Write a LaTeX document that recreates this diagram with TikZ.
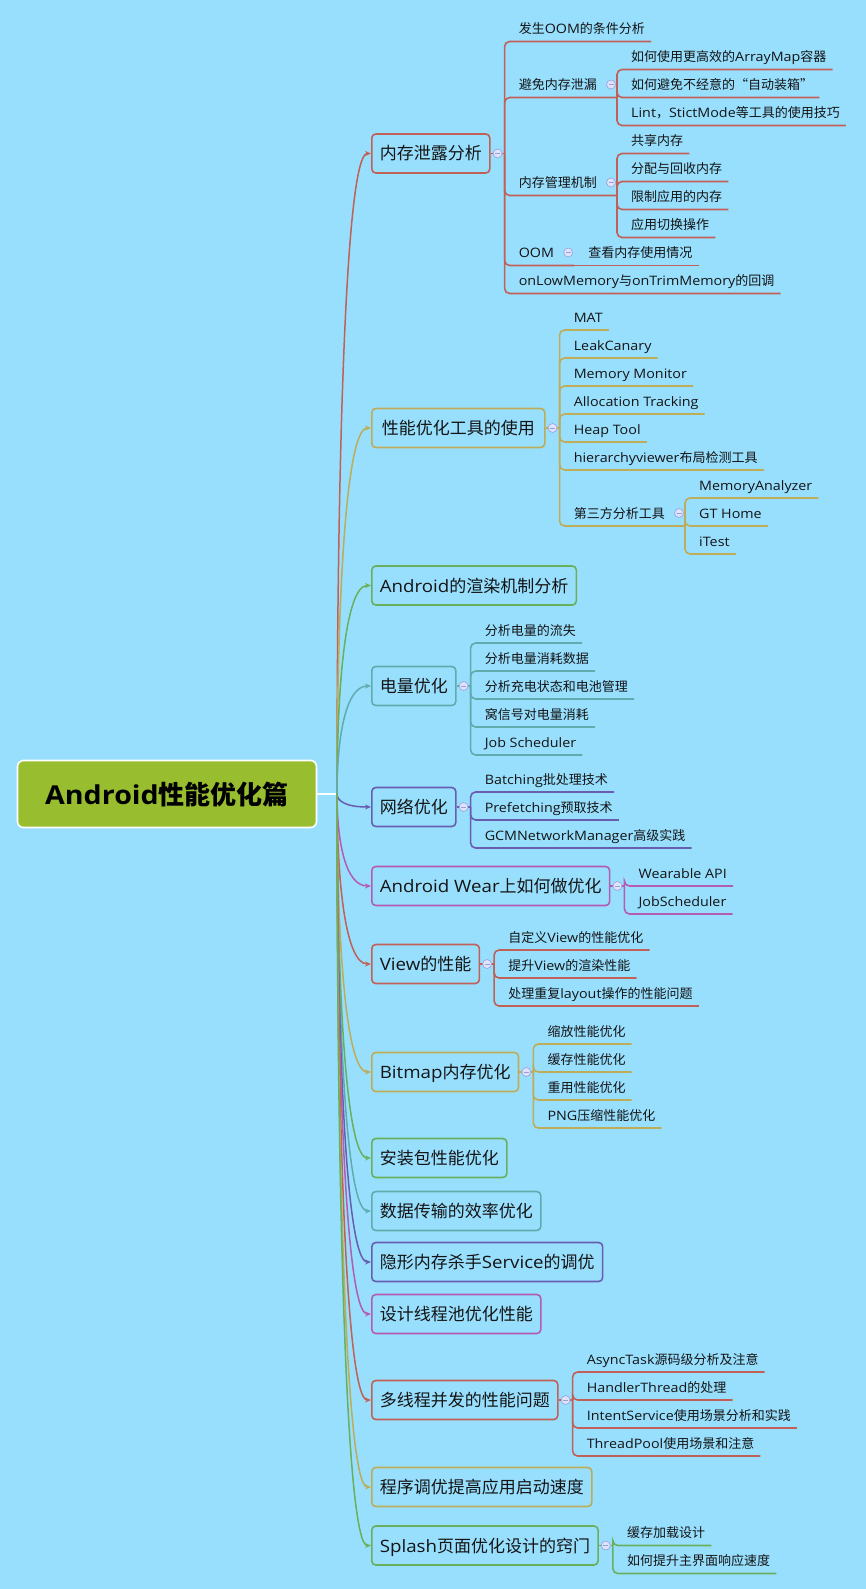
\documentclass[tikz,border=0pt]{standalone}
\usepackage{fontspec}
\setmainfont{Open Sans}[FakeStretch=1.1]
\newfontfamily\cjk{Noto Sans CJK SC}
\newcount\hanchar
\hanchar="4E00
\loop \XeTeXcharclass\hanchar=1 \advance\hanchar by 1 \ifnum\hanchar<"A000 \repeat
\hanchar="FF00
\loop \XeTeXcharclass\hanchar=1 \advance\hanchar by 1 \ifnum\hanchar<"FFF0 \repeat
\XeTeXcharclass"201C=1
\XeTeXcharclass"201D=1
\XeTeXinterchartokenstate=1
\XeTeXinterchartoks 0 1 = {\cjk}
\XeTeXinterchartoks 4095 1 = {\cjk}
\XeTeXinterchartoks 1 0 = {\rmfamily}
\usetikzlibrary{calc, positioning, arrows.meta}

\definecolor{bg}{RGB}{152,223,254}
\definecolor{rootfill}{RGB}{152,190,47}
\definecolor{ink}{RGB}{20,20,20}
\definecolor{cred}{RGB}{192,96,86}
\definecolor{colive}{RGB}{190,172,88}
\definecolor{cgreen}{RGB}{104,176,92}
\definecolor{cteal}{RGB}{96,172,172}
\definecolor{cpurple}{RGB}{104,94,176}
\definecolor{cmagenta}{RGB}{180,92,180}
\definecolor{foldfill}{RGB}{222,226,250}
\definecolor{foldline}{RGB}{150,160,220}

\begin{document}
\begin{tikzpicture}[x=1pt, y=-1pt,
  topic/.style={draw=#1, line width=1.6pt, rounded corners=4pt, inner xsep=8pt, inner ysep=0pt, minimum height=39pt, text height=15pt, text depth=2pt, anchor=west, text=ink, font=\fontsize{17}{17}\selectfont},
  leaf/.style={anchor=base west, inner sep=0pt, text=ink, font=\fontsize{13}{13}\selectfont},
  branch/.style={draw=#1, line width=1.6pt, rounded corners=5pt},
  link/.style={draw=#1, line width=1.5pt, -{Stealth[length=6pt, width=5pt]}},
  fold/.style={circle, draw=foldline, fill=foldfill, line width=0.6pt, inner sep=0pt, minimum size=9pt, path picture={\draw[foldline, line width=1pt] ([xshift=-2.5pt]path picture bounding box.center) -- ([xshift=2.5pt]path picture bounding box.center);}}]
\useasboundingbox (0,0) rectangle (866,1589);
\fill[bg] (0,0) rectangle (866,1589);

% root
\node[draw=white, line width=1.6pt, fill=rootfill, rounded corners=6pt, minimum width=299pt, minimum height=67pt, text height=23pt, text depth=3pt, font=\bfseries\fontsize{26}{26}\selectfont] (root) at (167,794) {Android性能优化篇};
\coordinate (trunk) at (337,794);

% main topics
\node[topic=cred] (mem) at (371,153.5) {内存泄露分析};
\node[topic=colive, minimum width=173pt] (tool) at (371,428) {性能优化工具的使用};
\node[topic=cgreen] (render) at (371,585.5) {Android的渲染机制分析};
\node[topic=cteal] (power) at (371,686) {电量优化};
\node[topic=cpurple] (net) at (371,807) {网络优化};
\node[topic=cmagenta] (wear) at (371,886) {Android Wear上如何做优化};
\node[topic=cred] (view) at (371,964) {View的性能};
\node[topic=colive] (bmp) at (371,1072) {Bitmap内存优化};
\node[topic=cgreen] (apk) at (371,1158) {安装包性能优化};
\node[topic=cteal] (trans) at (371,1211) {数据传输的效率优化};
\node[topic=cpurple] (svc) at (371,1262) {隐形内存杀手Service的调优};
\node[topic=cmagenta] (pool) at (371,1314) {设计线程池优化性能};
\node[topic=cred] (thread) at (371,1400) {多线程并发的性能问题};
\node[topic=colive] (boot) at (371,1487) {程序调优提高应用启动速度};
\node[topic=cgreen] (splash) at (371,1545.5) {Splash页面优化设计的窍门};

\draw[white, line width=1.6pt] (root.east) -- (trunk);
\draw[link=cred] (trunk) .. controls ($(trunk)!.5!(trunk |- mem.west)$) and ([xshift=-26pt]mem.west) .. (mem.west);
\draw[link=colive] (trunk) .. controls ($(trunk)!.5!(trunk |- tool.west)$) and ([xshift=-26pt]tool.west) .. (tool.west);
\draw[link=cgreen] (trunk) .. controls ($(trunk)!.5!(trunk |- render.west)$) and ([xshift=-26pt]render.west) .. (render.west);
\draw[link=cteal] (trunk) .. controls ($(trunk)!.5!(trunk |- power.west)$) and ([xshift=-26pt]power.west) .. (power.west);
\draw[link=cpurple] (trunk) .. controls ($(trunk)!.5!(trunk |- net.west)$) and ([xshift=-26pt]net.west) .. (net.west);
\draw[link=cmagenta] (trunk) .. controls ($(trunk)!.5!(trunk |- wear.west)$) and ([xshift=-26pt]wear.west) .. (wear.west);
\draw[link=cred] (trunk) .. controls ($(trunk)!.5!(trunk |- view.west)$) and ([xshift=-26pt]view.west) .. (view.west);
\draw[link=colive] (trunk) .. controls ($(trunk)!.5!(trunk |- bmp.west)$) and ([xshift=-26pt]bmp.west) .. (bmp.west);
\draw[link=cgreen] (trunk) .. controls ($(trunk)!.5!(trunk |- apk.west)$) and ([xshift=-26pt]apk.west) .. (apk.west);
\draw[link=cteal] (trunk) .. controls ($(trunk)!.5!(trunk |- trans.west)$) and ([xshift=-26pt]trans.west) .. (trans.west);
\draw[link=cpurple] (trunk) .. controls ($(trunk)!.5!(trunk |- svc.west)$) and ([xshift=-26pt]svc.west) .. (svc.west);
\draw[link=cmagenta] (trunk) .. controls ($(trunk)!.5!(trunk |- pool.west)$) and ([xshift=-26pt]pool.west) .. (pool.west);
\draw[link=cred] (trunk) .. controls ($(trunk)!.5!(trunk |- thread.west)$) and ([xshift=-26pt]thread.west) .. (thread.west);
\draw[link=colive] (trunk) .. controls ($(trunk)!.5!(trunk |- boot.west)$) and ([xshift=-26pt]boot.west) .. (boot.west);
\draw[link=cgreen] (trunk) .. controls ($(trunk)!.5!(trunk |- splash.west)$) and ([xshift=-26pt]splash.west) .. (splash.west);

% 内存泄露分析
\coordinate (memv) at ([xshift=14pt]mem.east);
\node[leaf] (m1) at ([shift={(14pt,120pt)}]memv) {发生OOM的条件分析};
\node[leaf] (m2) at ([shift={(14pt,64pt)}]memv) {避免内存泄漏};
\node[leaf] (m3) at ([shift={(14pt,-34pt)}]memv) {内存管理机制};
\node[leaf] (m4) at ([shift={(14pt,-104pt)}]memv) {OOM};
\node[leaf] (m5) at ([shift={(14pt,-132pt)}]memv) {onLowMemory与onTrimMemory的回调};
\coordinate (m2v) at ([shift={(20pt,-8pt)}]m2.base east);
\coordinate (m3v) at ([shift={(20pt,-8pt)}]m3.base east);
\coordinate (m4v) at ([shift={(20pt,-8pt)}]m4.base east);
\node[leaf] (m21) at ([shift={(14pt,36pt)}]m2v) {如何使用更高效的ArrayMap容器};
\node[leaf] (m22) at ([shift={(14pt,8pt)}]m2v) {如何避免不经意的“自动装箱”};
\node[leaf] (m23) at ([shift={(14pt,-20pt)}]m2v) {Lint，StictMode等工具的使用技巧};
\node[leaf] (m31) at ([shift={(14pt,50pt)}]m3v) {共享内存};
\node[leaf] (m32) at ([shift={(14pt,22pt)}]m3v) {分配与回收内存};
\node[leaf] (m33) at ([shift={(14pt,-6pt)}]m3v) {限制应用的内存};
\node[leaf] (m34) at ([shift={(14pt,-34pt)}]m3v) {应用切换操作};
\node[leaf] (m41) at ([shift={(14pt,8pt)}]m4v) {查看内存使用情况};
\draw[branch=cred] (mem.east) -- (memv);
\draw[branch=cred] (memv) |- ([shift={(6pt,-8pt)}]m1.base east);
\draw[branch=cred] (memv) |- (m2v);
\draw[branch=cred] (memv) |- (m3v);
\draw[branch=cred] (memv) |- (m4v);
\draw[branch=cred] (memv) |- ([shift={(6pt,-8pt)}]m5.base east);
\draw[branch=cred] (m2v) |- ([shift={(6pt,-8pt)}]m21.base east);
\draw[branch=cred] (m2v) |- ([shift={(6pt,-8pt)}]m22.base east);
\draw[branch=cred] (m2v) |- ([shift={(6pt,-8pt)}]m23.base east);
\draw[branch=cred] (m3v) |- ([shift={(6pt,-8pt)}]m31.base east);
\draw[branch=cred] (m3v) |- ([shift={(6pt,-8pt)}]m32.base east);
\draw[branch=cred] (m3v) |- ([shift={(6pt,-8pt)}]m33.base east);
\draw[branch=cred] (m3v) |- ([shift={(6pt,-8pt)}]m34.base east);
\draw[branch=cred] (m4v) -- ([shift={(6pt,-8pt)}]m41.base east);
\node[fold] at ([xshift=7pt]mem.east) {};
\node[fold] at ([shift={(14pt,5pt)}]m2.base east) {};
\node[fold] at ([shift={(14pt,5pt)}]m3.base east) {};
\node[fold] at ([shift={(14pt,5pt)}]m4.base east) {};

% 性能优化工具的使用
\coordinate (toolv) at ([xshift=14pt]tool.east);
\node[leaf] (t1) at ([shift={(14pt,106pt)}]toolv) {MAT};
\node[leaf] (t2) at ([shift={(14pt,78pt)}]toolv) {LeakCanary};
\node[leaf] (t3) at ([shift={(14pt,50pt)}]toolv) {Memory Monitor};
\node[leaf] (t4) at ([shift={(14pt,22pt)}]toolv) {Allocation Tracking};
\node[leaf] (t5) at ([shift={(14pt,-6pt)}]toolv) {Heap Tool};
\node[leaf] (t6) at ([shift={(14pt,-34pt)}]toolv) {hierarchyviewer布局检测工具};
\node[leaf] (t7) at ([shift={(14pt,-90pt)}]toolv) {第三方分析工具};
\coordinate (t7v) at ([shift={(20pt,-8pt)}]t7.base east);
\node[leaf] (t71) at ([shift={(14pt,36pt)}]t7v) {MemoryAnalyzer};
\node[leaf] (t72) at ([shift={(14pt,8pt)}]t7v) {GT Home};
\node[leaf] (t73) at ([shift={(14pt,-20pt)}]t7v) {iTest};
\draw[branch=colive] (tool.east) -- (toolv);
\draw[branch=colive] (toolv) |- ([shift={(6pt,-8pt)}]t1.base east);
\draw[branch=colive] (toolv) |- ([shift={(6pt,-8pt)}]t2.base east);
\draw[branch=colive] (toolv) |- ([shift={(6pt,-8pt)}]t3.base east);
\draw[branch=colive] (toolv) |- ([shift={(6pt,-8pt)}]t4.base east);
\draw[branch=colive] (toolv) |- ([shift={(6pt,-8pt)}]t5.base east);
\draw[branch=colive] (toolv) |- ([shift={(6pt,-8pt)}]t6.base east);
\draw[branch=colive] (toolv) |- (t7v);
\draw[branch=colive] (t7v) |- ([shift={(6pt,-8pt)}]t71.base east);
\draw[branch=colive] (t7v) |- ([shift={(6pt,-8pt)}]t72.base east);
\draw[branch=colive] (t7v) |- ([shift={(6pt,-8pt)}]t73.base east);
\node[fold] at ([xshift=7pt]tool.east) {};
\node[fold] at ([shift={(14pt,5pt)}]t7.base east) {};

% 电量优化
\coordinate (powerv) at ([xshift=14pt]power.east);
\node[leaf] (p1) at ([shift={(14pt,51pt)}]powerv) {分析电量的流失};
\node[leaf] (p2) at ([shift={(14pt,23pt)}]powerv) {分析电量消耗数据};
\node[leaf] (p3) at ([shift={(14pt,-5pt)}]powerv) {分析充电状态和电池管理};
\node[leaf] (p4) at ([shift={(14pt,-33pt)}]powerv) {窝信号对电量消耗};
\node[leaf] (p5) at ([shift={(14pt,-61pt)}]powerv) {Job Scheduler};
\draw[branch=cteal] (power.east) -- (powerv);
\draw[branch=cteal] (powerv) |- ([shift={(6pt,-8pt)}]p1.base east);
\draw[branch=cteal] (powerv) |- ([shift={(6pt,-8pt)}]p2.base east);
\draw[branch=cteal] (powerv) |- ([shift={(6pt,-8pt)}]p3.base east);
\draw[branch=cteal] (powerv) |- ([shift={(6pt,-8pt)}]p4.base east);
\draw[branch=cteal] (powerv) |- ([shift={(6pt,-8pt)}]p5.base east);
\node[fold] at ([xshift=7pt]power.east) {};

% 网络优化
\coordinate (netv) at ([xshift=14pt]net.east);
\node[leaf] (n1) at ([shift={(14pt,23pt)}]netv) {Batching批处理技术};
\node[leaf] (n2) at ([shift={(14pt,-5pt)}]netv) {Prefetching预取技术};
\node[leaf] (n3) at ([shift={(14pt,-33pt)}]netv) {GCMNetworkManager高级实践};
\draw[branch=cpurple] (net.east) -- (netv);
\draw[branch=cpurple] (netv) |- ([shift={(6pt,-8pt)}]n1.base east);
\draw[branch=cpurple] (netv) |- ([shift={(6pt,-8pt)}]n2.base east);
\draw[branch=cpurple] (netv) |- ([shift={(6pt,-8pt)}]n3.base east);
\node[fold] at ([xshift=7pt]net.east) {};

% Android Wear
\coordinate (wearv) at ([xshift=14pt]wear.east);
\node[leaf] (w1) at ([shift={(14pt,8pt)}]wearv) {Wearable API};
\node[leaf] (w2) at ([shift={(14pt,-20pt)}]wearv) {JobScheduler};
\draw[branch=cmagenta] (wear.east) -- (wearv);
\draw[branch=cmagenta] (wearv) |- ([shift={(6pt,-8pt)}]w1.base east);
\draw[branch=cmagenta] (wearv) |- ([shift={(6pt,-8pt)}]w2.base east);
\node[fold] at ([xshift=7pt]wear.east) {};

% View的性能
\coordinate (viewv) at ([xshift=14pt]view.east);
\node[leaf] (v1) at ([shift={(14pt,22pt)}]viewv) {自定义View的性能优化};
\node[leaf] (v2) at ([shift={(14pt,-6pt)}]viewv) {提升View的渲染性能};
\node[leaf] (v3) at ([shift={(14pt,-34pt)}]viewv) {处理重复layout操作的性能问题};
\draw[branch=cred] (view.east) -- (viewv);
\draw[branch=cred] (viewv) |- ([shift={(6pt,-8pt)}]v1.base east);
\draw[branch=cred] (viewv) |- ([shift={(6pt,-8pt)}]v2.base east);
\draw[branch=cred] (viewv) |- ([shift={(6pt,-8pt)}]v3.base east);
\node[fold] at ([xshift=7pt]view.east) {};

% Bitmap内存优化
\coordinate (bmpv) at ([xshift=14pt]bmp.east);
\node[leaf] (b1) at ([shift={(14pt,36pt)}]bmpv) {缩放性能优化};
\node[leaf] (b2) at ([shift={(14pt,8pt)}]bmpv) {缓存性能优化};
\node[leaf] (b3) at ([shift={(14pt,-20pt)}]bmpv) {重用性能优化};
\node[leaf] (b4) at ([shift={(14pt,-48pt)}]bmpv) {PNG压缩性能优化};
\draw[branch=colive] (bmp.east) -- (bmpv);
\draw[branch=colive] (bmpv) |- ([shift={(6pt,-8pt)}]b1.base east);
\draw[branch=colive] (bmpv) |- ([shift={(6pt,-8pt)}]b2.base east);
\draw[branch=colive] (bmpv) |- ([shift={(6pt,-8pt)}]b3.base east);
\draw[branch=colive] (bmpv) |- ([shift={(6pt,-8pt)}]b4.base east);
\node[fold] at ([xshift=7pt]bmp.east) {};

% 多线程并发的性能问题
\coordinate (threadv) at ([xshift=14pt]thread.east);
\node[leaf] (h1) at ([shift={(14pt,36pt)}]threadv) {AsyncTask源码级分析及注意};
\node[leaf] (h2) at ([shift={(14pt,8pt)}]threadv) {HandlerThread的处理};
\node[leaf] (h3) at ([shift={(14pt,-20pt)}]threadv) {IntentService使用场景分析和实践};
\node[leaf] (h4) at ([shift={(14pt,-48pt)}]threadv) {ThreadPool使用场景和注意};
\draw[branch=cred] (thread.east) -- (threadv);
\draw[branch=cred] (threadv) |- ([shift={(6pt,-8pt)}]h1.base east);
\draw[branch=cred] (threadv) |- ([shift={(6pt,-8pt)}]h2.base east);
\draw[branch=cred] (threadv) |- ([shift={(6pt,-8pt)}]h3.base east);
\draw[branch=cred] (threadv) |- ([shift={(6pt,-8pt)}]h4.base east);
\node[fold] at ([xshift=7pt]thread.east) {};

% Splash页面
\coordinate (splashv) at ([xshift=14pt]splash.east);
\node[leaf] (s1) at ([shift={(14pt,8pt)}]splashv) {缓存加载设计};
\node[leaf] (s2) at ([shift={(14pt,-20pt)}]splashv) {如何提升主界面响应速度};
\draw[branch=cgreen] (splash.east) -- (splashv);
\draw[branch=cgreen] (splashv) |- ([shift={(6pt,-8pt)}]s1.base east);
\draw[branch=cgreen] (splashv) |- ([shift={(6pt,-8pt)}]s2.base east);
\node[fold] at ([xshift=7pt]splash.east) {};
\end{tikzpicture}
\end{document}
